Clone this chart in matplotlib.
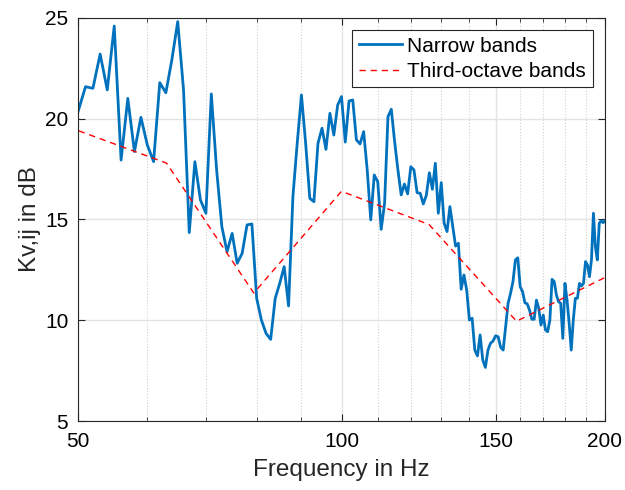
import numpy as np
import matplotlib
matplotlib.use("Agg")
import matplotlib.pyplot as plt
from matplotlib.ticker import FixedLocator, NullFormatter

plt.rcParams['font.family'] = ['Liberation Sans', 'DejaVu Sans']

# narrow band spectrum, 1 Hz steps from 50 to 200 Hz
freq_nb = np.arange(50, 201)
kv_nb = [
    20.35, 21.59, 21.51, 23.21, 21.43, 24.60, 17.95, 21.01, 18.37, 20.07,   # 50-59
    18.70, 17.87, 21.79, 21.29, 22.92, 24.82, 21.43, 14.35, 17.87, 15.97,   # 60-69
    15.31, 21.23, 17.46, 14.64, 13.40, 14.31, 12.83, 13.32, 14.73, 14.78,   # 70-79
    11.09, 10.01, 9.35, 9.05, 11.09, 11.83, 12.66, 10.71, 16.13, 18.78,     # 80-89
    21.18, 18.78, 16.05, 15.88, 18.78, 19.53, 18.48, 20.27, 19.19, 20.68,   # 90-99
    21.10, 18.84, 20.88, 20.93, 18.95, 18.75, 19.36, 17.46, 14.98, 17.21,   # 100-109
    16.88, 14.51, 15.80, 20.10, 20.47, 18.86, 17.46, 16.22, 16.76, 16.27,   # 110-119
    17.62, 17.46, 16.33, 16.30, 15.77, 16.20, 17.32, 16.50, 17.79, 15.31,   # 120-129
    16.83, 14.81, 14.40, 15.64, 14.64, 13.68, 13.82, 11.54, 12.25, 11.50,   # 130-139
    10.01, 10.10, 8.52, 8.23, 9.27, 8.03, 7.66, 8.52, 8.86, 8.97,           # 140-149
    9.23, 9.18, 8.66, 8.52, 9.68, 10.84, 11.34, 11.92, 12.99, 13.10,        # 150-159
    11.67, 11.42, 10.87, 10.81, 10.50, 10.05, 10.05, 11.00, 10.59, 9.76,    # 160-169
    10.26, 9.52, 9.43, 10.01, 12.03, 11.92, 11.25, 10.92, 10.84, 9.10,      # 170-179
    11.83, 11.00, 9.85, 8.52, 10.01, 11.09, 11.09, 11.83, 11.70, 11.83,     # 180-189
    12.91, 12.74, 12.16, 12.99, 15.31, 13.65, 12.99, 14.81, 14.94, 14.84,   # 190-199
    14.94,                                                                  # 200
]

# third-octave band values
freq_to = [50.1, 63.1, 79.4, 100.0, 125.9, 158.5, 199.5]
kv_to = [19.4, 17.8, 11.35, 16.4, 14.75, 9.95, 12.1]

fig = plt.figure(figsize=(6.25, 4.9), dpi=100)
ax = fig.add_axes([0.1248, 0.1408, 0.8432, 0.8225])

ax.plot(freq_nb, kv_nb, color='#0072BD', lw=2, label='Narrow bands')
ax.plot(freq_to, kv_to, color='red', ls=(0, (4.5, 3.5)), lw=1,
        label='Third-octave bands')

ax.set_xscale('log')
ax.set_xlim(50, 200)
ax.set_ylim(5, 25)
ax.xaxis.set_major_locator(FixedLocator([50, 100, 150, 200]))
ax.set_xticklabels(['50', '100', '150', '200'])
ax.xaxis.set_minor_locator(FixedLocator([60, 70, 80, 90, 110, 120, 130, 140,
                                         160, 170, 180, 190]))
ax.xaxis.set_minor_formatter(NullFormatter())
ax.set_yticks([5, 10, 15, 20, 25])

ax.grid(which='major', color='#e3e3e3', lw=1, ls='-')
ax.grid(which='minor', axis='x', color='#d0d0d0', lw=0.8, ls=':')
ax.set_axisbelow(True)

ax.tick_params(which='both', direction='in', top=True, right=True,
               labelsize=15, color='#262626')
ax.tick_params(which='major', length=5)
ax.tick_params(which='minor', length=3)
ax.tick_params(axis='x', pad=8)
ax.tick_params(axis='y', pad=7)
for s in ax.spines.values():
    s.set_color('#262626')
    s.set_linewidth(0.8)

ax.set_xlabel('Frequency in Hz', fontsize=17.5, color='#262626', labelpad=6)
ax.set_ylabel('Kv,ij in dB', fontsize=17.5, color='#262626', labelpad=3)

leg = ax.legend(loc='upper right', fontsize=15, fancybox=False,
                edgecolor='#262626', framealpha=1, borderaxespad=0.6,
                handlelength=2.1, handletextpad=0.25, labelspacing=0.3,
                borderpad=0.3)
leg.get_frame().set_linewidth(0.8)

fig.savefig('out.png', dpi=100)
